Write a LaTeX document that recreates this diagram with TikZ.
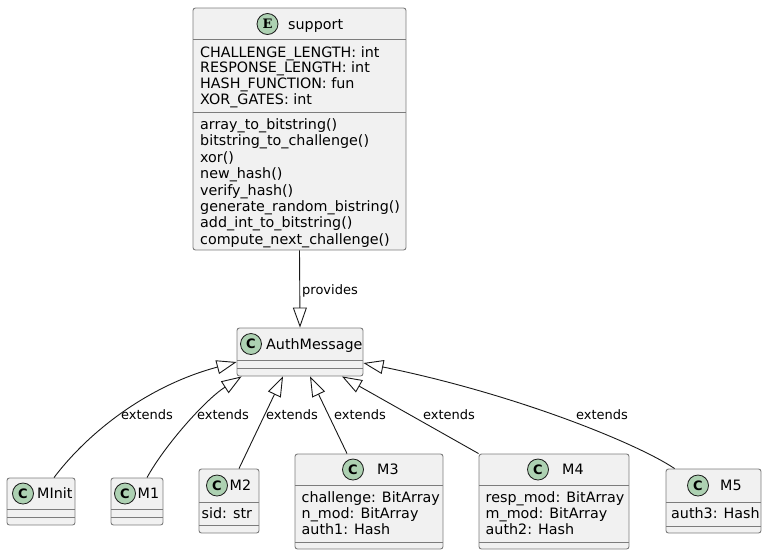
\documentclass[tikz,border=0pt]{standalone}
\usepackage{fontspec}
\setmainfont{DejaVu Sans}
\newfontfamily\spotserif{DejaVu Serif}
\usetikzlibrary{arrows.meta,calc}
\definecolor{boxfill}{HTML}{F1F1F1}
\definecolor{boxline}{HTML}{7C7C7C}
\definecolor{edgeline}{HTML}{181818}
\definecolor{spotfill}{HTML}{ADD1B2}
\tikzset{
  classbox/.style={draw=boxline, line width=0.9pt, fill=boxfill, rounded corners=2.5pt, inner sep=0pt, rectangle},
  sepline/.style={draw=boxline, line width=0.9pt},
  spot/.style={circle, draw=edgeline, line width=0.8pt, fill=spotfill, minimum size=21pt, inner sep=0pt, font=\fontsize{13}{13}\selectfont\bfseries},
  txt/.style={anchor=base west, inner sep=0pt, font=\fontsize{14.3}{16}\selectfont},
  lbl/.style={anchor=base, inner sep=0pt, font=\fontsize{13}{15}\selectfont},
  gen/.style={draw=edgeline, line width=0.9pt, -{Triangle[open, length=20pt, width=14pt]}},
}
\begin{document}
\begin{tikzpicture}[x=1pt, y=-1pt]
\useasboundingbox (0,0) rectangle (767,555);

% ---------- support ----------
\node[classbox, minimum width=213pt, minimum height=242pt] (sup) at (299.5,129) {};
\draw[sepline] (193,39.5) -- (406,39.5);
\draw[sepline] (193,112.7) -- (406,112.7);
\node[spot, font=\fontsize{13}{13}\selectfont\spotserif\bfseries] (supE) at (267.5,24) {E};
\node[txt] (supT) at (288,29) {support};
\foreach \t [count=\i] in {CHALLENGE\_LENGTH: int, RESPONSE\_LENGTH: int, HASH\_FUNCTION: fun, XOR\_GATES: int}
  \node[txt] (supA\i) at (200,{57+15.9*(\i-1)}) {\t};
\foreach \t [count=\i] in {array\_to\_bitstring(), bitstring\_to\_challenge(), xor(), new\_hash(), verify\_hash(), generate\_random\_bistring(), add\_int\_to\_bitstring(), compute\_next\_challenge()}
  \node[txt] (supM\i) at (200,{129.5+16.4*(\i-1)}) {\t};

% ---------- AuthMessage ----------
\node[classbox, minimum width=126pt, minimum height=48pt] (AM) at (300,352) {};
\draw[sepline] (237,360.7) -- (363,360.7);
\draw[sepline] (237,368) -- (363,368);
\node[spot] (AMC) at (251,344) {C};
\node[txt] (AMT) at (266,349) {AuthMessage};

% ---------- MInit ----------
\node[classbox, minimum width=68pt, minimum height=47pt] (MI) at (41,501.5) {};
\draw[sepline] (7,509) -- (75,509);
\draw[sepline] (7,517) -- (75,517);
\node[spot] (MIC) at (23,493.5) {C};
\node[txt] (MIT) at (37,498.5) {MInit};

% ---------- M1 ----------
\node[classbox, minimum width=52pt, minimum height=47pt] (MA) at (137,501.5) {};
\draw[sepline] (111,509) -- (163,509);
\draw[sepline] (111,517) -- (163,517);
\node[spot] (MAC) at (125,493.5) {C};
\node[txt] (MAT) at (137.5,498.5) {M1};

% ---------- M2 ----------
\node[classbox, minimum width=60pt, minimum height=64pt] (MB) at (229,501) {};
\draw[sepline] (199,502) -- (259,502);
\draw[sepline] (199,525) -- (259,525);
\node[spot] (MBC) at (217,485.5) {C};
\node[txt] (MBT) at (229.5,490.5) {M2};
\node[txt] (MBA) at (201.5,518) {sid: str};

% ---------- M3 ----------
\node[classbox, minimum width=148pt, minimum height=95pt] (MC) at (369,501.5) {};
\draw[sepline] (295,485) -- (443,485);
\draw[sepline] (295,542) -- (443,542);
\node[spot] (MCC) at (353,469.5) {C};
\node[txt] (MCT) at (377,474.5) {M3};
\foreach \t [count=\i] in {challenge: BitArray, n\_mod: BitArray, auth1: Hash}
  \node[txt] (MCA\i) at (301.5,{502+16.4*(\i-1)}) {\t};

% ---------- M4 ----------
\node[classbox, minimum width=150pt, minimum height=95pt] (MD) at (554,501.5) {};
\draw[sepline] (479,485) -- (629,485);
\draw[sepline] (479,542) -- (629,542);
\node[spot] (MDC) at (538,469.5) {C};
\node[txt] (MDT) at (562,474.5) {M4};
\foreach \t [count=\i] in {resp\_mod: BitArray, m\_mod: BitArray, auth2: Hash}
  \node[txt] (MDA\i) at (485.5,{502+16.4*(\i-1)}) {\t};

% ---------- M5 ----------
\node[classbox, minimum width=95pt, minimum height=64pt] (ME) at (713.5,501) {};
\draw[sepline] (666,502) -- (761,502);
\draw[sepline] (666,526) -- (761,526);
\node[spot] (MEC) at (698,485.5) {C};
\node[txt] (MET) at (720,490.5) {M5};
\node[txt] (MEA) at (671,518) {auth3: Hash};

% ---------- connectors ----------
\draw[gen] (sup.south) -- (AM.north);
\node[anchor=base west, inner sep=0pt, font=\fontsize{13}{15}\selectfont] (prov) at (302,294.5) {provides};

\draw[gen] ($(MI.north)+(13,0)$) .. controls (90,430) and (150,385) .. ($(AM.west)+(0,10)$);
\draw[gen] ($(MA.north)+(10,0)$) .. controls (165,445) and (205,400) .. ($(AM.south west)+(5,0)$);
\draw[gen] ($(MB.north)+(10,0)$) -- ($(AM.south)+(-17,0)$);
\draw[gen] ($(MC.north)+(-22,0)$) -- ($(AM.south)+(10,0)$);
\draw[gen] (MD.north west) -- ($(AM.south)+(42,0)$);
\draw[gen] ($(ME.north west)+(9,0)$) .. controls (640,445) and (520,395) .. ($(AM.east)+(0,11)$);

\node[lbl] (l1) at (147,419.5) {extends};
\node[lbl] (l2) at (223,419.5) {extends};
\node[lbl] (l3) at (292,419.5) {extends};
\node[lbl] (l4) at (360,419.5) {extends};
\node[lbl] (l5) at (449,419.5) {extends};
\node[lbl] (l6) at (602,419.5) {extends};
\end{tikzpicture}
\end{document}
